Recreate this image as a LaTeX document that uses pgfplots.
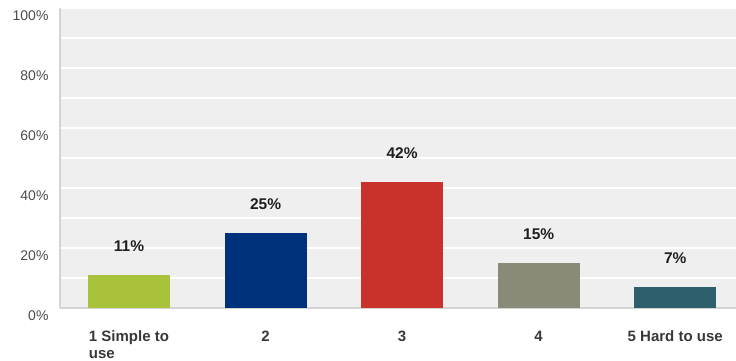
\documentclass[border=0pt]{standalone}
\usepackage{pgfplots}
\pgfplotsset{compat=1.18}
\usepackage{fontspec}
\setmainfont{Liberation Sans}
\definecolor{bg}{HTML}{EFEFEF}
\definecolor{axgray}{HTML}{D4D4D4}
\definecolor{cA}{HTML}{A8C23C}
\definecolor{cB}{HTML}{00317B}
\definecolor{cC}{HTML}{C8322B}
\definecolor{cD}{HTML}{8A8A78}
\definecolor{cE}{HTML}{2E5F6C}
\begin{document}
\begin{tikzpicture}
\begin{axis}[
  scale only axis, width=676pt, height=300pt,
  xmin=-0.505, xmax=4.445, ymin=0, ymax=100,
  axis background/.style={fill=bg},
  axis lines*=left,
  axis line style={-, draw=axgray, line width=1.5pt},
  ytick={0,20,...,100},
  minor ytick={10,30,50,70,90},
  yticklabel={\pgfmathprintnumber{\tick}\%},
  ymajorgrids, yminorgrids,
  major grid style={white, line width=1.5pt},
  minor grid style={white, line width=1.5pt},
  tick style={draw=none},
  xtick={0,1,2,3,4},
  xticklabels={{1 Simple to\\use},2,3,4,5 Hard to use},
  xticklabel style={align=left, font=\bfseries\fontsize{15}{17}\selectfont, text=black!78, yshift=-15pt},
  yticklabel style={font=\fontsize{14}{16}\selectfont, text=black!70, yshift=-8pt, xshift=-8pt},
  /pgf/number format/assume math mode=true,
  ybar, bar width=82pt, bar shift=0pt,
  point meta=y,
  nodes near coords={\pgfmathprintnumber{\pgfplotspointmeta}\%},
  nodes near coords style={font=\bfseries\fontsize{15.5}{16}\selectfont, text=black!88, anchor=center, inner sep=0pt, yshift=29pt},
]
\addplot[fill=cA, draw=none] coordinates {(0,11)};
\addplot[fill=cB, draw=none] coordinates {(1,25)};
\addplot[fill=cC, draw=none] coordinates {(2,42)};
\addplot[fill=cD, draw=none] coordinates {(3,15)};
\addplot[fill=cE, draw=none] coordinates {(4,7)};
\end{axis}
\pgfresetboundingbox
\path[use as bounding box] ([shift={(-60pt,-53pt)}]current axis.south west) rectangle ([shift={(0pt,8pt)}]current axis.north east);
\end{tikzpicture}
\end{document}
